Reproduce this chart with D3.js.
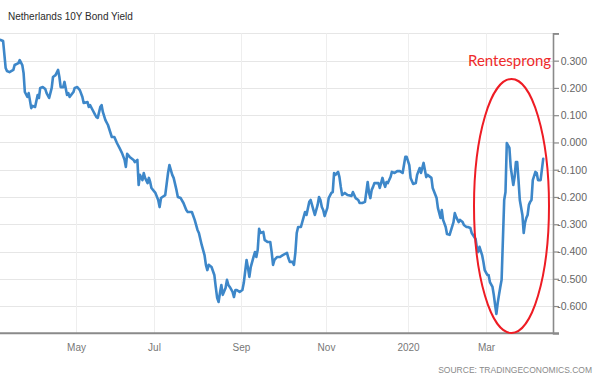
<!DOCTYPE html>
<html><head><meta charset="utf-8">
<script src="https://cdn.jsdelivr.net/npm/d3@7"></script>
<style>html,body{margin:0;padding:0;background:#fff}svg{display:block}</style>
</head><body>
<svg id="chart" width="600" height="376"></svg>
<script>
const title = "Netherlands 10Y Bond Yield";
const sourceText = "SOURCE: TRADINGECONOMICS.COM";
const annotationText = "Rentesprong";

const dates = [
"2019-03-03","2019-03-05","2019-03-07","2019-03-08","2019-03-10","2019-03-13","2019-03-14","2019-03-17","2019-03-18","2019-03-20",
"2019-03-21","2019-03-22","2019-03-24","2019-03-25","2019-03-27","2019-03-28","2019-03-30","2019-04-01","2019-04-02","2019-04-03",
"2019-04-05","2019-04-07","2019-04-08","2019-04-10","2019-04-12","2019-04-13","2019-04-15","2019-04-17","2019-04-18","2019-04-19",
"2019-04-21","2019-04-22","2019-04-24","2019-04-25","2019-04-26","2019-04-29","2019-04-30","2019-05-02","2019-05-04","2019-05-06",
"2019-05-07","2019-05-10","2019-05-11","2019-05-12","2019-05-14","2019-05-16","2019-05-17","2019-05-18","2019-05-20","2019-05-21",
"2019-05-22","2019-05-24","2019-05-26","2019-05-29","2019-05-31","2019-06-02","2019-06-04","2019-06-06","2019-06-08","2019-06-09",
"2019-06-10","2019-06-12","2019-06-15","2019-06-16","2019-06-18","2019-06-19","2019-06-20","2019-06-22","2019-06-23","2019-06-24",
"2019-06-26","2019-06-27","2019-06-28","2019-06-29","2019-07-02","2019-07-04","2019-07-05","2019-07-06","2019-07-07","2019-07-09",
"2019-07-11","2019-07-12","2019-07-14","2019-07-15","2019-07-17","2019-07-18","2019-07-20","2019-07-22","2019-07-24","2019-07-25",
"2019-07-28","2019-07-30","2019-08-01","2019-08-02","2019-08-04","2019-08-06","2019-08-07","2019-08-08","2019-08-09","2019-08-11",
"2019-08-13","2019-08-14","2019-08-15","2019-08-16","2019-08-17","2019-08-18","2019-08-19","2019-08-21","2019-08-22","2019-08-23",
"2019-08-24","2019-08-26","2019-08-27","2019-08-28","2019-08-29","2019-08-31","2019-09-02","2019-09-03","2019-09-05","2019-09-06",
"2019-09-07","2019-09-08","2019-09-10","2019-09-11","2019-09-12","2019-09-13","2019-09-14","2019-09-15","2019-09-17","2019-09-18",
"2019-09-19","2019-09-20","2019-09-22","2019-09-23","2019-09-24","2019-09-25","2019-09-27","2019-09-29","2019-10-01","2019-10-04",
"2019-10-05","2019-10-06","2019-10-08","2019-10-09","2019-10-10","2019-10-11","2019-10-12","2019-10-14","2019-10-16","2019-10-17",
"2019-10-18","2019-10-20","2019-10-21","2019-10-23","2019-10-24","2019-10-26","2019-10-27","2019-10-28","2019-10-29","2019-10-30",
"2019-10-31","2019-11-02","2019-11-03","2019-11-05","2019-11-06","2019-11-07","2019-11-08","2019-11-10","2019-11-11","2019-11-12",
"2019-11-13","2019-11-15","2019-11-17","2019-11-20","2019-11-21","2019-11-23","2019-11-25","2019-11-26","2019-11-28","2019-11-30",
"2019-12-02","2019-12-03","2019-12-04","2019-12-05","2019-12-06","2019-12-07","2019-12-10","2019-12-11","2019-12-13","2019-12-14",
"2019-12-15","2019-12-16","2019-12-17","2019-12-19","2019-12-20","2019-12-22","2019-12-24","2019-12-26","2019-12-28","2019-12-29",
"2019-12-30","2019-12-31","2020-01-02","2020-01-03","2020-01-05","2020-01-07","2020-01-08","2020-01-10","2020-01-11","2020-01-13",
"2020-01-14","2020-01-15","2020-01-16","2020-01-19","2020-01-20","2020-01-23","2020-01-24","2020-01-26","2020-01-27","2020-01-28",
"2020-01-30","2020-01-31","2020-02-02","2020-02-05","2020-02-06","2020-02-07","2020-02-09","2020-02-10","2020-02-12","2020-02-13",
"2020-02-15","2020-02-16","2020-02-18","2020-02-19","2020-02-22","2020-02-23","2020-02-24","2020-02-25","2020-02-27","2020-02-28",
"2020-02-29","2020-03-02","2020-03-03","2020-03-04","2020-03-06","2020-03-07","2020-03-08","2020-03-09","2020-03-10","2020-03-11",
"2020-03-12","2020-03-13","2020-03-14","2020-03-15","2020-03-16","2020-03-17","2020-03-19","2020-03-20","2020-03-22","2020-03-23",
"2020-03-24","2020-03-25","2020-03-26","2020-03-27","2020-03-29","2020-03-30","2020-03-31","2020-04-01","2020-04-02","2020-04-03",
"2020-04-04","2020-04-05","2020-04-06","2020-04-08","2020-04-09","2020-04-10","2020-04-12","2020-04-14"
];

const yields = [
0.376,0.372,0.273,0.262,0.258,0.266,0.284,0.291,0.302,0.284,
0.255,0.185,0.167,0.181,0.126,0.134,0.130,0.174,0.163,0.200,
0.203,0.196,0.181,0.163,0.200,0.240,0.247,0.266,0.240,0.203,
0.203,0.222,0.174,0.181,0.167,0.185,0.200,0.203,0.192,0.167,
0.145,0.148,0.130,0.137,0.119,0.101,0.093,0.090,0.130,0.137,
0.112,0.082,0.064,0.020,0.020,-0.002,-0.020,-0.039,-0.064,-0.090,
-0.042,-0.053,-0.064,-0.072,-0.064,-0.156,-0.119,-0.138,-0.112,-0.130,
-0.149,-0.130,-0.145,-0.167,-0.185,-0.211,-0.237,-0.204,-0.200,-0.193,
-0.112,-0.083,-0.119,-0.130,-0.174,-0.200,-0.204,-0.222,-0.248,-0.255,
-0.255,-0.284,-0.321,-0.332,-0.376,-0.413,-0.449,-0.468,-0.449,-0.457,
-0.486,-0.530,-0.570,-0.585,-0.552,-0.523,-0.559,-0.534,-0.504,-0.523,
-0.530,-0.548,-0.567,-0.541,-0.541,-0.548,-0.541,-0.515,-0.431,-0.460,
-0.493,-0.457,-0.420,-0.402,-0.420,-0.394,-0.317,-0.332,-0.328,-0.358,
-0.361,-0.365,-0.365,-0.402,-0.449,-0.431,-0.420,-0.420,-0.413,-0.405,
-0.424,-0.438,-0.438,-0.449,-0.405,-0.332,-0.310,-0.310,-0.273,-0.255,
-0.266,-0.218,-0.211,-0.248,-0.266,-0.229,-0.200,-0.211,-0.237,-0.248,
-0.270,-0.240,-0.204,-0.185,-0.182,-0.112,-0.119,-0.108,-0.127,-0.163,
-0.193,-0.185,-0.193,-0.196,-0.182,-0.204,-0.211,-0.222,-0.222,-0.218,
-0.145,-0.185,-0.204,-0.174,-0.163,-0.149,-0.149,-0.167,-0.130,-0.149,
-0.163,-0.145,-0.149,-0.127,-0.108,-0.112,-0.105,-0.105,-0.112,-0.083,
-0.053,-0.053,-0.083,-0.130,-0.152,-0.149,-0.119,-0.094,-0.112,-0.075,
-0.101,-0.127,-0.119,-0.130,-0.167,-0.204,-0.240,-0.277,-0.248,-0.284,
-0.310,-0.336,-0.339,-0.292,-0.259,-0.273,-0.292,-0.284,-0.292,-0.303,
-0.310,-0.310,-0.314,-0.332,-0.354,-0.387,-0.402,-0.383,-0.413,-0.438,
-0.468,-0.486,-0.486,-0.512,-0.530,-0.559,-0.596,-0.629,-0.589,-0.559,
-0.530,-0.504,-0.358,-0.211,-0.182,-0.002,-0.020,-0.090,-0.156,-0.127,
-0.072,-0.072,-0.138,-0.211,-0.266,-0.332,-0.295,-0.277,-0.266,-0.229,
-0.218,-0.211,-0.138,-0.108,-0.112,-0.138,-0.138,-0.060
];

const xTickDates = ["2019-05-01","2019-07-01","2019-09-01","2019-11-01","2020-01-01","2020-03-01"];
const xTickLabels = ["May","Jul","Sep","Nov","2020","Mar"];
const yTickValues = [-0.7,-0.6,-0.5,-0.4,-0.3,-0.2,-0.1,0,0.1,0.2,0.3,0.4];
const yTickLabels = ["","-0.600","-0.500","-0.400","-0.300","-0.200","-0.100","0.000","0.100","0.200","0.300",""];

const parse = d3.timeParse("%Y-%m-%d");
const data = dates.map((d, i) => ({date: parse(d), value: yields[i]}));
const tickDates = xTickDates.map(parse);

const svg = d3.select("#chart");
const plotLeft = 0, plotRight = 553, plotTop = 33.4, plotBottom = 333.3;

// piecewise time scale that follows the month spacing of the source chart
const x = d3.scaleTime()
  .domain(tickDates)
  .range([76, 154, 241, 326, 408, 486]);
const y = d3.scaleLinear().domain([-0.7, 0.4]).range([plotBottom, plotTop]);

// grid
const grid = svg.append("g");
grid.selectAll(".hg").data(yTickValues).join("line")
  .attr("x1", plotLeft).attr("x2", plotRight)
  .attr("y1", d => Math.round(y(d)) + 0.5).attr("y2", d => Math.round(y(d)) + 0.5)
  .attr("stroke", "#e6e6e6").attr("stroke-width", 1);
grid.selectAll(".vg").data(tickDates).join("line")
  .attr("x1", d => Math.round(x(d)) + 0.5).attr("x2", d => Math.round(x(d)) + 0.5)
  .attr("y1", plotTop).attr("y2", plotBottom)
  .attr("stroke", "#eeeeee").attr("stroke-width", 1);

// line
const line = d3.line().x(d => x(d.date)).y(d => y(d.value)).curve(d3.curveLinear);
svg.append("path").datum(data)
  .attr("d", line)
  .attr("fill", "none")
  .attr("stroke", "#3d87c9")
  .attr("stroke-width", 2.6)
  .attr("stroke-linejoin", "round")
  .attr("stroke-linecap", "round");

// right y axis
const yAxis = d3.axisRight(y)
  .tickValues(yTickValues)
  .tickSize(6)
  .tickPadding(0)
  .tickFormat((d, i) => yTickLabels[i]);
const gy = svg.append("g").attr("transform", `translate(${plotRight},0)`).call(yAxis);
gy.select(".domain").attr("stroke", "#8a8a8a").attr("stroke-width", 1.6);
gy.selectAll(".tick line").attr("stroke", "#8a8a8a").attr("stroke-width", 1.2);
gy.selectAll(".tick text")
  .attr("x", 34).attr("text-anchor", "end")
  .attr("fill", "#666").style("font-family", "'Liberation Sans', Arial, sans-serif").style("font-size", "10.5px");

// bottom x axis
const xAxis = d3.axisBottom(x)
  .tickValues(tickDates)
  .tickSize(0)
  .tickPadding(11)
  .tickFormat((d, i) => xTickLabels[i]);
const gx = svg.append("g").attr("transform", `translate(0,${plotBottom})`).call(xAxis);
gx.select(".domain").remove();
gx.selectAll(".tick text")
  .attr("fill", "#777").style("font-family", "'Liberation Sans', Arial, sans-serif").style("font-size", "10px");
svg.append("line")
  .attr("x1", 0).attr("x2", plotRight + 6)
  .attr("y1", plotBottom).attr("y2", plotBottom)
  .attr("stroke", "#8a8a8a").attr("stroke-width", 2);

// title
svg.append("text")
  .attr("x", 8).attr("y", 20)
  .attr("fill", "#2b2b2b")
  .style("font-family", "'Liberation Sans', Arial, sans-serif")
  .style("font-size", "10px")
  .text(title);

// source
svg.append("text")
  .attr("x", 592).attr("y", 373)
  .attr("text-anchor", "end")
  .attr("fill", "#8a8a8a")
  .style("font-family", "'Liberation Sans', Arial, sans-serif")
  .style("font-size", "8.5px")
  .text(sourceText);

// annotation
svg.append("ellipse")
  .attr("cx", 511.5).attr("cy", 206)
  .attr("rx", 37.5).attr("ry", 127)
  .attr("fill", "none")
  .attr("stroke", "#ee1c24")
  .attr("stroke-width", 2);
svg.append("text")
  .attr("x", 468).attr("y", 66)
  .attr("fill", "#ee2a2a")
  .style("font-family", "Lato, 'Open Sans', sans-serif")
  .style("font-size", "15px")
  .text(annotationText);
</script>
</body></html>
